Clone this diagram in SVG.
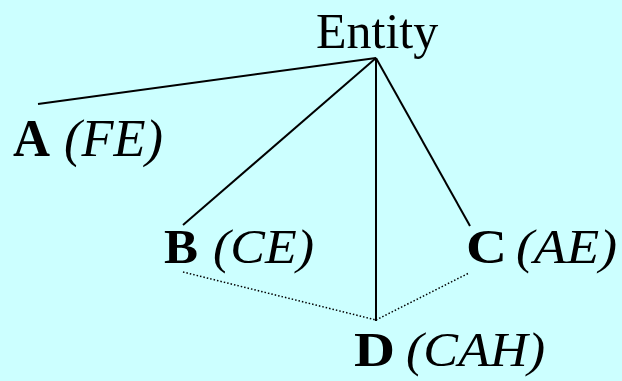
<svg xmlns="http://www.w3.org/2000/svg" width="622" height="381" viewBox="0 0 622 381">
<style>
text{font-family:"Liberation Serif","Times New Roman",serif;font-size:48px;fill:#000}
.b{font-weight:bold}
.i{font-style:italic}
.big{font-size:52px}
.s{stroke:#000;stroke-width:2;fill:none}
.d{stroke:#000;stroke-width:1.5;fill:none;stroke-dasharray:1.5 2}
</style>
<rect width="622" height="381" fill="#CCFFFF"/>
<g id="connectors">
<line class="s" x1="376" y1="58" x2="38" y2="104"/>
<line class="s" x1="376" y1="58" x2="183" y2="225"/>
<line class="s" x1="376" y1="58" x2="470" y2="226"/>
<line class="s" x1="376" y1="58" x2="376" y2="321"/>
<line class="d" x1="183" y1="272" x2="376" y2="320"/>
<line class="d" x1="376" y1="320" x2="469" y2="273"/>
</g>
<g id="entity"><text x="316" y="48" style="font-size:50px">Entity</text></g>
<g id="A">
<text class="b big" x="13" y="156" textLength="37" lengthAdjust="spacingAndGlyphs">A</text>
<text class="i big" x="64" y="156" textLength="99" lengthAdjust="spacingAndGlyphs">(FE)</text>
</g>
<g id="B">
<text class="b" x="164" y="263" textLength="34" lengthAdjust="spacingAndGlyphs">B</text>
<text class="i" x="213" y="263" textLength="101" lengthAdjust="spacingAndGlyphs">(CE)</text>
</g>
<g id="C">
<text class="b" x="466" y="263" textLength="41" lengthAdjust="spacingAndGlyphs">C</text>
<text class="i" x="516" y="263" textLength="101" lengthAdjust="spacingAndGlyphs">(AE)</text>
</g>
<g id="D">
<text class="b" x="354" y="366" textLength="41" lengthAdjust="spacingAndGlyphs">D</text>
<text class="i" x="406" y="366" textLength="139" lengthAdjust="spacingAndGlyphs">(CAH)</text>
</g>
</svg>
